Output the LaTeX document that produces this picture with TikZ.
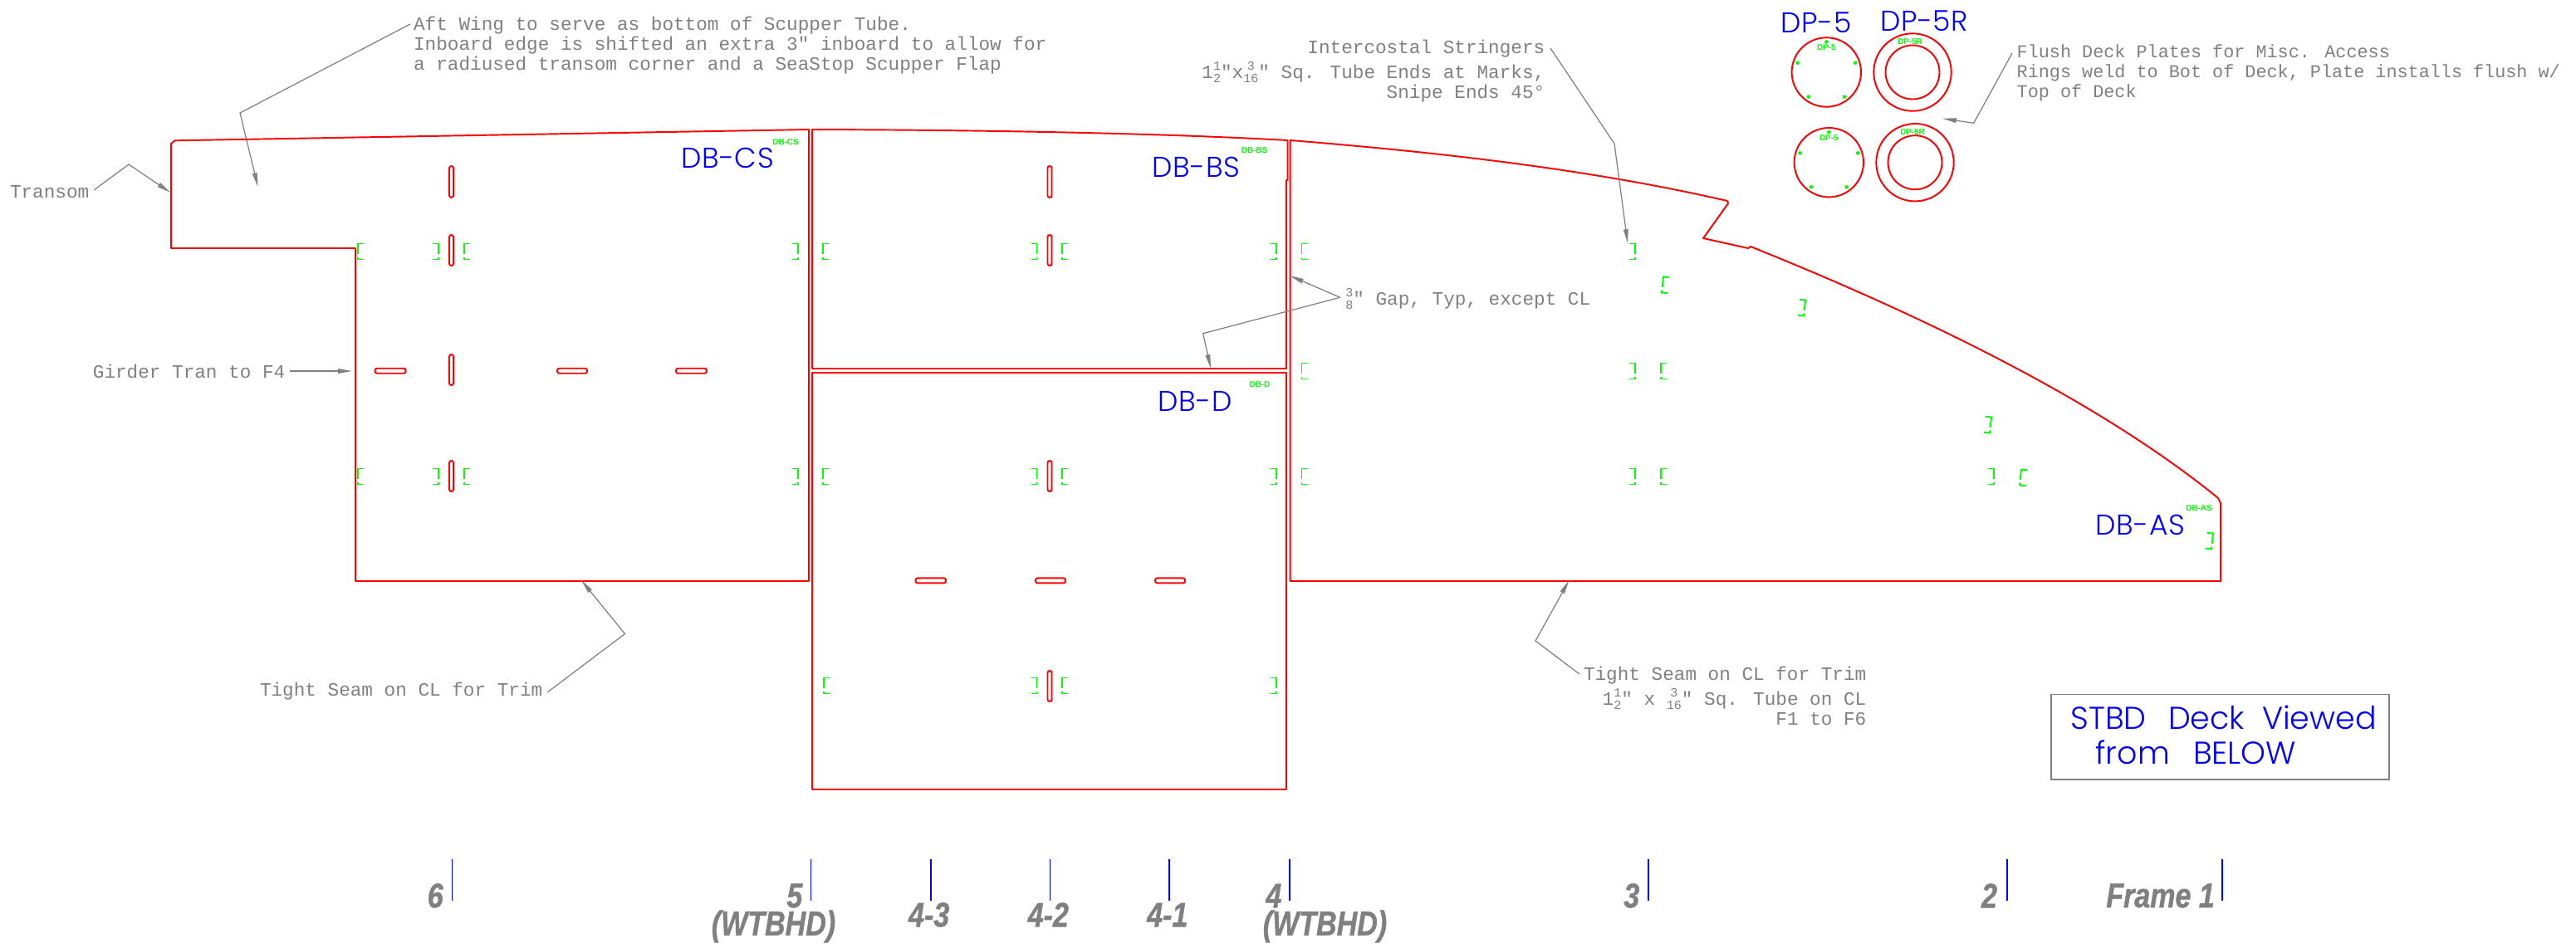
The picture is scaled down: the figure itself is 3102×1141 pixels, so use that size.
\documentclass[tikz,border=0pt]{standalone}
\usepackage{fontspec}
\usetikzlibrary{arrows.meta}
\setmainfont[LetterSpace=2]{Poppins Light}
\newfontfamily\cadfont{Liberation Mono}
\newfontfamily\viewfont{Poppins Light}
\newfontfamily\markfont{Liberation Sans}
\newfontfamily\framefont[FakeStretch=0.82,FakeBold=1]{Liberation Sans}

\definecolor{cadred}{RGB}{255,0,0}
\definecolor{cadblue}{RGB}{0,0,255}
\definecolor{cadgreen}{RGB}{0,255,0}
\definecolor{cadgray}{RGB}{128,128,128}

\newcommand{\cadfrac}[2]{{\fontsize{4.3}{4.3}\selectfont\ooalign{\hfil\raisebox{2.9pt}{#1}\hfil\cr\hfil\raisebox{-1.3pt}{#2}\hfil\cr}}}

\tikzset{
    plate/.style={cadred, line width=0.55pt, line join=round},
    slot/.style={cadred, line width=0.55pt, rounded corners=0.7pt},
    leader/.style={cadgray, line width=0.35pt},
    leadertip/.style={leader, -{Triangle[length=4.8pt,width=1.6pt]}},
    note/.style={cadgray, inner sep=0pt, font=\cadfont\fontsize{6.45}{6.85}\selectfont},
    platename/.style={cadblue, inner sep=0pt, font=\fontsize{9.8}{11}\selectfont},
    partmark/.style={cadgreen, inner sep=0pt, font=\markfont\bfseries\fontsize{2.8}{3}\selectfont},
    framemark/.style={cadblue, line width=0.5pt},
    framename/.style={cadgray, inner sep=0pt, font=\framefont\bfseries\itshape\fontsize{11.8}{12}\selectfont},
    leftbrk/.pic={\draw[cadgreen, line width=0.55pt] (0,3) -- (0,-9.5) -- (7,-9.5) (0,6.5) -- (0,9.5) -- (7,9.5);},
    rightbrk/.pic={\draw[cadgreen, line width=0.55pt] (0,3) -- (0,-9.5) -- (-7,-9.5) (0,6.5) -- (0,9.5) -- (-7,9.5);},
}

\begin{document}
\begin{tikzpicture}[x=0.01cm, y=-0.01cm]
    \useasboundingbox (0,0) rectangle (3102,1141);

    % deck plates
    \draw[plate] (206,173) -- (210.5,169.3) -- (974,156) -- (974,700) -- (428,700) -- (428,299) -- (206,299) -- cycle;
    \draw[plate] (978,156) .. controls (1170,156.5) and (1390,160) .. (1550.5,169) -- (1550.5,217) -- (1549,217) -- (1549,444) -- (978,444) -- cycle;
    \draw[plate] (978,449) rectangle (1549,951);
    \draw[plate] (1553.6,700) -- (1553.6,169) .. controls (1740,184) and (1920,205) .. (2080,242)
        -- (2081,245) -- (2051,287) -- (2105,299) -- (2108,297)
        .. controls (2359,398) and (2547,499) .. (2671,600)
        -- (2674,606) -- (2674,700) -- cycle;

    % slots
    \foreach \x/\ya/\yb in {543.5/200/238, 543.5/283/320, 543.5/427/464, 543.5/555/592,
            1264/200/238, 1264/283/320, 1264/555/592, 1264/808/845} {
            \draw[slot] (\x-2.5,\ya) rectangle (\x+2.5,\yb);
        }
    \foreach \xa/\xb/\y in {451.5/488.5/446.7, 671/707/446.7, 814/851/446.7,
            1102.5/1139/699.4, 1247/1283/699.4, 1391/1427/699.4} {
            \draw[slot] (\xa,\y-3) rectangle (\xb,\y+3);
        }

    % stringer marks
    \foreach \x/\y in {431/303, 559/303, 991/303, 1279/303, 1567.5/303, 1567.5/447, 2000/447,
            431/574, 559/574, 991/574, 1279/574, 1567.5/574, 2000/574,
            992/826, 1279/826} {
            \pic at (\x,\y) {leftbrk};
        }
    \foreach \x/\y in {528/303, 961/303, 1248.5/303, 1537/303, 1969/303, 1969/447,
            528/574, 961/574, 1248.5/574, 1537/574, 1969/574,
            1248.5/826, 1537/826, 2401/574} {
            \pic at (\x,\y) {rightbrk};
        }
    \foreach \x/\y in {2173/371, 2397/512, 2664/652} {
            \pic[rotate=-6] at (\x,\y) {rightbrk};
        }
    \foreach \x/\y in {2002/343, 2433/575} {
            \pic[rotate=-6] at (\x,\y) {leftbrk};
        }

    % deck plate rings
    \foreach \cx/\cy/\lab/\n in {2199.3/87/{DP-5}/a, 2202.3/195.7/{DP-5}/b} {
            \draw[plate] (\cx,\cy) circle (41.7);
            \foreach \angle in {-90,-162,-18,-234,-306} {
                    \fill[cadgreen] (\cx,\cy) ++(\angle:36.6) circle (2.3);
                }
            \node[partmark] (dp\n) at (\cx,\cy-29.5) {\lab};
        }
    \foreach \cx/\cy/\n in {2303/87/a, 2306/195.7/b} {
            \draw[plate] (\cx,\cy) circle (46.7);
            \draw[plate] (\cx,\cy) circle (32.5);
            \node[partmark] (dpr\n) at (\cx-3,\cy-37) {DP-5R};
        }

    % plate names
    \node[platename] (dbcs) at (876,190.5) {DB-CS};
    \node[platename] (dbbs) at (1440.5,201) {DB-BS};
    \node[platename] (dbd) at (1439,483) {DB-D};
    \node[platename] (dbas) at (2577,632.5) {DB-AS};
    \node[platename] (dpfive) at (2187,27) {DP-5};
    \node[platename] (dpfiver) at (2317,25.5) {DP-5R};
    \node[partmark] (mcs) at (946,171) {DB-CS};
    \node[partmark] (mbs) at (1510.5,181) {DB-BS};
    \node[partmark] (md) at (1517,463.5) {DB-D};
    \node[partmark] (mas) at (2648,612.5) {DB-AS};

    % notes
    \node[note, anchor=north west, align=left] (aftnote) at (497.4,19) {Aft Wing to serve as bottom of Scupper Tube.\\Inboard edge is shifted an extra 3\textquotedbl{} inboard to allow for\\a radiused transom corner and a SeaStop Scupper Flap};
    \coordinate (aftstart) at (494,29);
    \coordinate (aftbend) at (289,136);
    \coordinate (afttip) at (310.6,225);
    \draw[leadertip] (aftstart) -- (aftbend) -- (afttip);

    \node[note, anchor=east] (transom) at (108,231) {Transom};
    \coordinate (transombend) at (155,198);
    \coordinate (transomtip) at (205.4,232);
    \draw[leadertip] (transom.east) ++(5,-2) -- (transombend) -- (transomtip);

    \node[note, anchor=east] (girder) at (344,447) {Girder Tran to F4};
    \coordinate (girdertip) at (424,447);
    \draw[leadertip] (girder.east) ++(5,0) -- (girdertip);

    \node[note, anchor=east] (seamleft) at (654,833) {Tight Seam on CL for Trim};
    \coordinate (seamleftbend) at (752.5,763.5);
    \coordinate (seamlefttip) at (700,699);
    \draw[leadertip] (seamleft.east) ++(5,1) -- (seamleftbend) -- (seamlefttip);

    \node[note, anchor=north east, align=right] (stringers) at (1861,47) {Intercostal Stringers\\[0.6pt]1\cadfrac{1}{2}\textquotedbl{}x\cadfrac{3}{16}\textquotedbl{} Sq. Tube Ends at Marks,\\Snipe Ends 45°};
    \coordinate (stringstart) at (1867,58);
    \coordinate (stringbend) at (1944,173);
    \coordinate (stringtip) at (1960,293);
    \draw[leadertip] (stringstart) -- (stringbend) -- (stringtip);

    \node[note, anchor=west] (gap) at (1619.6,360) {\cadfrac{3}{8}\textquotedbl{} Gap, Typ, except CL};
    \coordinate (gapstart) at (1613.7,358.3);
    \coordinate (gaptipa) at (1553,332);
    \coordinate (gapbend) at (1448.7,401.7);
    \coordinate (gaptipb) at (1458,444);
    \draw[leadertip] (gapstart) -- (gaptipa);
    \draw[leadertip] (gapstart) -- (gapbend) -- (gaptipb);

    \node[note, anchor=north west, align=left, font=\cadfont\fontsize{6.2}{6.85}\selectfont] (flush) at (2428,53) {Flush Deck Plates for Misc. Access\\Rings weld to Bot of Deck, Plate installs flush w/\\Top of Deck};
    \coordinate (flushstart) at (2423,64);
    \coordinate (flushbend) at (2376.7,148.3);
    \coordinate (flushtip) at (2339,142.7);
    \draw[leadertip] (flushstart) -- (flushbend) -- (flushtip);

    \node[note, anchor=north east, align=right] (seamright) at (2248,802) {Tight Seam on CL for Trim\\[0.6pt]1\cadfrac{1}{2}\textquotedbl{} x \cadfrac{3}{16}\textquotedbl{} Sq. Tube on CL\\F1 to F6};
    \coordinate (seamrightstart) at (1902,812);
    \coordinate (seamrightbend) at (1849,772);
    \coordinate (seamrighttip) at (1889.5,699);
    \draw[leadertip] (seamrightstart) -- (seamrightbend) -- (seamrighttip);

    % view box
    \node[draw=cadgray, line width=0.5pt, minimum width=407*0.01cm, minimum height=102.5*0.01cm, inner sep=0pt] (viewbox) at (2673.5,887.75) {};
    \node[cadblue, inner sep=0pt, anchor=north west, align=left, font=\viewfont\fontsize{10.8}{11.9}\selectfont] (viewtext) at (2493,849) {STBD\hspace{7.5pt}Deck\hspace{6pt}Viewed\\\hspace*{8.5pt}from\hspace{8pt}BELOW};

    % frames
    \foreach \x in {544.6,976.4,1121,1264.6,1408,1553,1985,2417,2676} {
            \draw[framemark] (\x,1035) -- (\x,1085);
        }
    \node[framename, anchor=east] (fsix) at (534.4,1079) {6};
    \node[framename, anchor=east] (ffive) at (967,1079) {5};
    \node[framename] (wtbhdfive) at (931.5,1116) {(WTBHD)};
    \node[framename] (ffourc) at (1118.7,1102) {4-3};
    \node[framename] (ffourb) at (1262.3,1102) {4-2};
    \node[framename] (ffoura) at (1405.8,1102) {4-1};
    \node[framename, anchor=east] (ffour) at (1544,1079) {4};
    \node[framename] (wtbhdfour) at (1595.5,1116) {(WTBHD)};
    \node[framename, anchor=east] (fthree) at (1975,1079) {3};
    \node[framename, anchor=east] (ftwo) at (2405.7,1079) {2};
    \node[framename, anchor=east] (fone) at (2667.5,1079) {Frame 1};
\end{tikzpicture}
\end{document}
